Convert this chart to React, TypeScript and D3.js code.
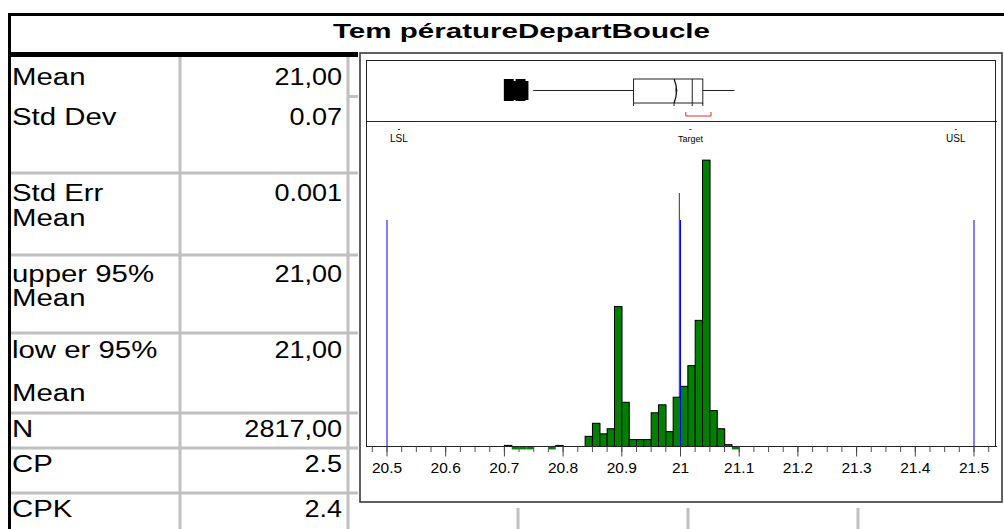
import React from "react";
import * as d3 from "d3";

// ---------- data ----------
const title = "Tem pératureDepartBoucle";
const statLabels: string[][] = [
  ["Mean"],
  ["Std Dev"],
  ["Std Err", "Mean"],
  ["upper 95%", "Mean"],
  ["low er 95%", "Mean"],
  ["N"],
  ["CP"],
  ["CPK"],
];
const statValues = ["21,00", "0.07", "0.001", "21,00", "21,00", "2817,00", "2.5", "2.4"];

const binWidth = 0.0125;
const binStarts = [
  20.7, 20.7125, 20.725, 20.7375, 20.775, 20.7875, 20.8375, 20.85, 20.8625, 20.875,
  20.8875, 20.9, 20.9125, 20.925, 20.9375, 20.95, 20.9625, 20.975, 20.9875, 21.0,
  21.0125, 21.025, 21.0375, 21.05, 21.0625, 21.075, 21.0875,
];
const binCounts = [
  3, -8, -8, -8, -8, 3, 28, 64, 35, 49,
  386, 122, 19, 19, 19, 93, 115, 41, 136, 166,
  223, 348, 790, 99, 49, 5, -8,
];

const boxQuantiles = [20.749, 20.92, 21.02, 21.038, 21.092]; // whiskerLo, Q1, median, Q3, whiskerHi
const boxMean = 20.989;
const shortestHalf = [21.009, 21.052];
const outliers = [20.705, 20.71, 20.715, 20.725, 20.73, 20.735];

const specNames = ["LSL", "Target", "USL"];
const specValues = [20.5, 21.0, 21.5];
const specLabelAt = [20.5204, 21.017, 21.469];
const meanValue = 20.998;

const majorTicks = [20.5, 20.6, 20.7, 20.8, 20.9, 21.0, 21.1, 21.2, 21.3, 21.4, 21.5];
const tickLabels = ["20.5", "20.6", "20.7", "20.8", "20.9", "21", "21.1", "21.2", "21.3", "21.4", "21.5"];

// ---------- layout ----------
const W = 1004;
const H = 529;
const labelBaselines = [[85], [125], [201, 226], [282, 306], [358, 401], [437], [472], [517]];
const rowLines = [173, 255, 333, 413, 448, 493];
const FONT = "'Liberation Sans', Arial, Helvetica, sans-serif";
const GRID = "#c0c0c0";

export default function App() {
  const x = d3.scaleLinear().domain([20.5, 21.5]).range([387, 974]);
  const base = 446.5;
  const y = d3.scaleLinear().domain([0, 800]).range([base, 156.5]);
  const minorTicks = d3.range(20.475, 21.53, 0.025);

  const boxTop = 79;
  const boxBot = 103;
  const boxMid = 90.5;
  const [wLo, q1, med, q3, wHi] = boxQuantiles;
  const mx = x(boxMean);

  return (
    <svg
      width={W}
      height={H}
      style={{ position: "absolute", left: 0, top: 0, display: "block", background: "#fff" }}
      fontFamily={FONT}
    >
      <rect x={0} y={0} width={W} height={H} fill="#fff" />

      {/* Title */}
      <text x={333} y={38} fontSize={21} fontWeight="bold" textLength={377} lengthAdjust="spacingAndGlyphs">
        {title}
      </text>

      {/* table grid */}
      <rect x={178.5} y={57} width={3} height={H - 57} fill={GRID} />
      <rect x={346.5} y={57} width={3} height={H - 57} fill={GRID} />
      <rect x={347} y={95} width={11} height={3} fill={GRID} />
      {rowLines.map((ly, i) => (
        <rect key={i} x={11} y={ly - 1.5} width={347} height={3} fill={GRID} />
      ))}

      {/* table texts */}
      {statLabels.map((lines, i) =>
        lines.map((t, j) => (
          <text
            key={`l${i}-${j}`}
            transform={`translate(12,${labelBaselines[i][j]}) scale(1.25,1)`}
            fontSize={23.5}
            fill="#000"
          >
            {t}
          </text>
        ))
      )}
      {statValues.map((v, i) => (
        <text
          key={`v${i}`}
          transform={`translate(342,${labelBaselines[i][0]}) scale(1.15,1)`}
          fontSize={23.5}
          textAnchor="end"
          fill="#000"
        >
          {v}
        </text>
      ))}

      {/* outer frame */}
      <rect x={8} y={13} width={3} height={H - 13} fill="#000" />
      <rect x={8} y={13} width={W - 8} height={3} fill="#000" />
      <rect x={8} y={52} width={350} height={5} fill="#000" />

      {/* panel */}
      <rect x={360} y={53} width={642} height={449} fill="none" stroke="#3a3a3a" strokeWidth={1.6} />
      <rect x={366.5} y={60.5} width={629} height={386} fill="none" stroke="#222" strokeWidth={1} />
      <line x1={366} x2={997} y1={121.5} y2={121.5} stroke="#222" strokeWidth={1} />

      {/* box plot */}
      {outliers.map((o, i) => (
        <rect
          key={`o${i}`}
          x={x(o) - 3.5}
          y={i % 3 === 2 ? 81 : 79}
          width={7}
          height={i % 3 === 2 ? 19 : 22}
          fill="#000"
        />
      ))}
      <line x1={x(wLo)} x2={x(q1)} y1={boxMid} y2={boxMid} stroke="#222" strokeWidth={1} />
      <line x1={x(q3)} x2={x(wHi)} y1={boxMid} y2={boxMid} stroke="#222" strokeWidth={1} />
      <rect x={x(q1)} y={boxTop} width={x(q3) - x(q1)} height={boxBot - boxTop} fill="none" stroke="#222" strokeWidth={1} />
      <line x1={x(med)} x2={x(med)} y1={boxTop} y2={boxBot} stroke="#222" strokeWidth={1} />
      <path d={`M${mx},${boxTop} Q${mx + 5},${boxMid} ${mx},${boxBot}`} fill="none" stroke="#111" strokeWidth={1.3} />
      <path d={`M${mx + 1.5},${boxMid - 2} L${mx + 3.5},${boxMid} L${mx + 1.5},${boxMid + 2}`} fill="#111" />
      {[x(q1), mx, x(med), x(q3)].map((v, i) => (
        <line key={`bt${i}`} x1={v} x2={v} y1={boxBot} y2={boxBot + 3} stroke="#222" />
      ))}
      <path
        d={`M${x(shortestHalf[0])},112 V116 H${x(shortestHalf[1])} V112`}
        fill="none"
        stroke="#e8302a"
        strokeWidth={1}
      />

      {/* spec labels */}
      {specNames.map((s, i) => (
        <g key={s}>
          <line x1={x(specLabelAt[i]) - 1} x2={x(specLabelAt[i]) + 1} y1={129.5} y2={129.5} stroke="#333" />
          <text x={x(specLabelAt[i])} y={142} fontSize={s === "Target" ? 9 : 10} textAnchor="middle" fill="#000">
            {s}
          </text>
        </g>
      ))}

      {/* mean line */}
      <line x1={x(meanValue)} x2={x(meanValue)} y1={193} y2={base} stroke="#333" strokeWidth={1} />

      {/* histogram */}
      {binStarts.map((b, i) => {
        const c = binCounts[i];
        const x0 = x(b);
        const x1 = x(b + binWidth);
        if (c < 0) {
          return <rect key={`b${i}`} x={x0} y={base} width={x1 - x0} height={y(c) - y(0)} fill="#008000" />;
        }
        return (
          <g key={`b${i}`}>
            <rect x={x0 + 1} y={y(c)} width={x1 - x0} height={base - y(c)} fill="#9a9a9a" />
            <rect x={x0} y={y(c)} width={x1 - x0} height={base - y(c)} fill="#008000" stroke="#000" strokeWidth={1} />
          </g>
        );
      })}

      {/* spec lines */}
      {specValues.map((v, i) => (
        <line key={`s${i}`} x1={x(v)} x2={x(v)} y1={220} y2={base} stroke="#0000ff" strokeWidth={1} />
      ))}

      {/* axis */}
      <line x1={366} x2={997} y1={base} y2={base} stroke="#222" strokeWidth={1} />
      {minorTicks.map((t, i) => (
        <line key={`mt${i}`} x1={x(t)} x2={x(t)} y1={base} y2={base + 5.5} stroke="#555" strokeWidth={1} />
      ))}
      {majorTicks.map((t, i) => (
        <g key={`Mt${i}`}>
          <line x1={x(t)} x2={x(t)} y1={base} y2={base + 10} stroke="#444" strokeWidth={1} />
          <text x={x(t)} y={473} fontSize={15.5} textAnchor="middle" fill="#000">
            {tickLabels[i]}
          </text>
        </g>
      ))}

      {/* lines below panel */}
      {[518, 688, 858].map((lx, i) => (
        <rect key={`g${i}`} x={lx - 1.5} y={508} width={3} height={H - 508} fill={GRID} />
      ))}
    </svg>
  );
}
